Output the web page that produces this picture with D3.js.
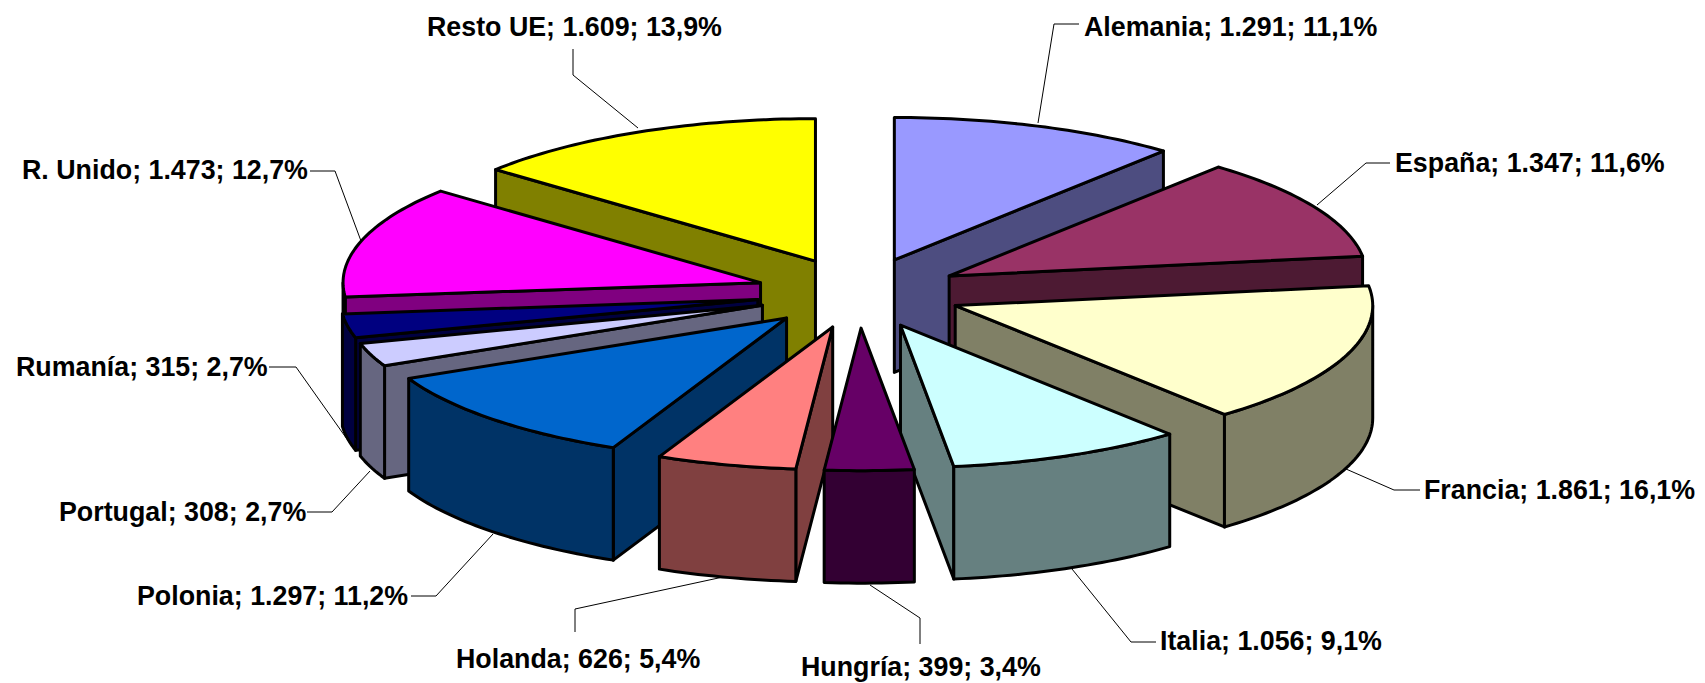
<!DOCTYPE html>
<html><head><meta charset="utf-8">
<style>html,body{margin:0;padding:0;background:#fff}svg{display:block}text{font-family:"Liberation Sans",Arial,sans-serif;font-weight:bold;font-size:26.8px;fill:#000}</style>
<script src="https://cdn.jsdelivr.net/npm/d3@7"></script></head><body><svg id="c" width="1705" height="683"></svg>
<script>
const categories=["Alemania","España","Francia","Italia","Hungría","Holanda","Polonia","Portugal","Rumanía","R. Unido","Resto UE"];
const values=[1291,1347,1861,1056,399,626,1297,308,315,1473,1609];
const valueLabels=["1.291","1.347","1.861","1.056","399","626","1.297","308","315","1.473","1.609"];
const percentLabels=["11,1%","11,6%","16,1%","9,1%","3,4%","5,4%","11,2%","2,7%","2,7%","12,7%","13,9%"];
const topColors=["#9999FF","#993366","#FFFFCC","#CCFFFF","#660066","#FF8080","#0066CC","#CCCCFF","#000080","#FF00FF","#FFFF00"];
const wallColors=["#4D4D80","#4D1A33","#808066","#668080","#330033","#804040","#003366","#666680","#000040","#800080","#808000"];
const labelAnchors=[[1084,29],[1395,165],[1424,492],[1160,643],[801,669],[456,661],[137,598],[59,514],[16,369],[22,172],[427,29]];
const leaders=[
 [[1038,123],[1054,24],[1079,24]],
 [[1317,205],[1366,163],[1390,163]],
 [[1346,469],[1394,490],[1420,490]],
 [[1072,569],[1131,642],[1156,642]],
 [[870,585],[920,618],[920,644]],
 [[723,577],[575,609],[575,632]],
 [[493,534],[436,596],[411,596]],
 [[370,471],[332,512],[307,512]],
 [[354,449],[296,367],[269,367]],
 [[361,241],[335,171],[310,171]],
 [[638,128],[573,75],[573,49]]
];
const cx=859,cy=293,R=417.5,Ry=142.5,depth=112.5,explode=103;
const xS=d3.scaleLinear().domain([-1,1]).range([-R,R]);
const yS=d3.scaleLinear().domain([-1,1]).range([-Ry,Ry]);
const pie=d3.pie().sort(null).startAngle(0).endAngle(2*Math.PI);
const arcs=pie(values).map((d,i)=>{
  const mid=(d.startAngle+d.endAngle)/2;
  return {i,a0:d.startAngle,a1:d.endAngle,mid,
    ox:cx+explode/R*xS(Math.sin(mid)),oy:cy+explode/R*yS(-Math.cos(mid))};
});
const line=d3.line();
function pt(s,a,dz=0){return [s.ox+xS(Math.sin(a)),s.oy+yS(-Math.cos(a))+dz];}
function arcPts(s,a,b,dz=0){const n=Math.max(2,Math.ceil((b-a)/0.02));return d3.range(n+1).map(k=>pt(s,a+(b-a)*k/n,dz));}
const svg=d3.select("#c");
const order=arcs.slice().sort((p,q)=>Math.cos(q.mid)-Math.cos(p.mid));
const g=svg.selectAll("g.s").data(order).join("g").attr("class","s")
  .attr("stroke","#000").attr("stroke-width",3).attr("stroke-linejoin","round");
g.each(function(s){
  const el=d3.select(this), fill=wallColors[s.i], apex=[s.ox,s.oy], apexB=[s.ox,s.oy+depth];
  const wall=(p)=>el.append("path").attr("d",line(p)+"Z").attr("fill",fill);
  if(Math.sin(s.a0)<0){wall([apex,pt(s,s.a0),pt(s,s.a0,depth),apexB]);}
  if(Math.sin(s.a1)>0){wall([apex,pt(s,s.a1),pt(s,s.a1,depth),apexB]);}
  const lo=Math.max(s.a0,Math.PI/2),hi=Math.min(s.a1,1.5*Math.PI);
  if(hi>lo){wall(arcPts(s,lo,hi).concat(arcPts(s,lo,hi,depth).reverse()));}
  el.append("path").attr("d",line([apex].concat(arcPts(s,s.a0,s.a1)))+"Z").attr("fill",topColors[s.i]);
});
svg.selectAll("path.leader").data(leaders).join("path").attr("class","leader")
  .attr("d",d=>line(d)).attr("fill","none").attr("stroke","#000").attr("stroke-width",1);
svg.selectAll("text.lab").data(categories).join("text").attr("class","lab")
  .attr("x",(d,i)=>labelAnchors[i][0]).attr("y",(d,i)=>labelAnchors[i][1]).attr("dominant-baseline","middle")
  .text((d,i)=>`${d}; ${valueLabels[i]}; ${percentLabels[i]}`);
</script></body></html>
